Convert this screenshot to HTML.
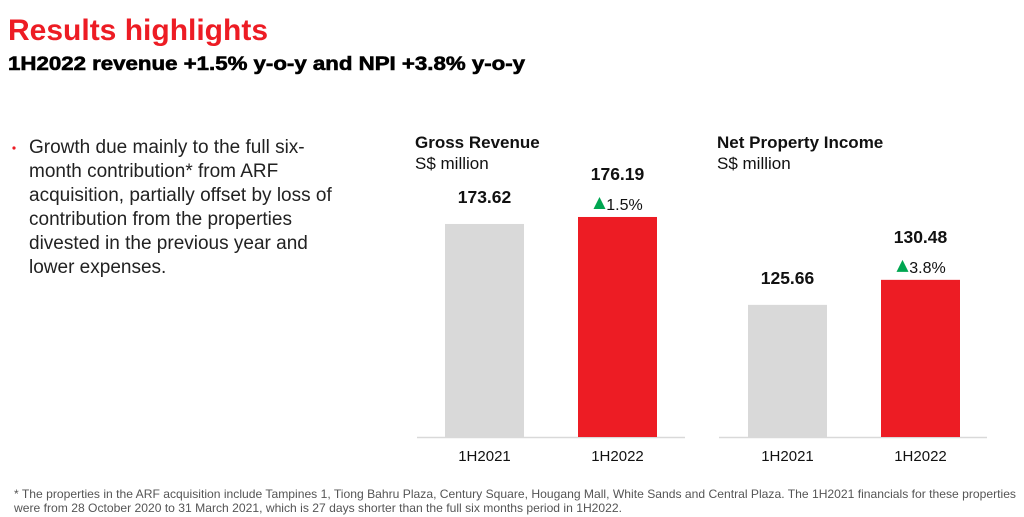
<!DOCTYPE html>
<html><head><meta charset="utf-8"><style>
html,body{margin:0;padding:0;background:#fff;}
svg{display:block;font-family:"Liberation Sans",Arial,sans-serif;}
</style></head><body>
<svg id="s" width="1024" height="517" viewBox="0 0 1024 517">
<text x="8" y="40" font-size="30" font-weight="bold" fill="#ed1c24">Results highlights</text>
<text x="8" y="70" font-size="19" font-weight="900" fill="#000" stroke="#000" stroke-width="0.6" textLength="517" lengthAdjust="spacingAndGlyphs">1H2022 revenue +1.5% y-o-y and NPI +3.8% y-o-y</text>
<circle cx="14" cy="148" r="1.6" fill="#ed1c24"/>
<g font-size="19" fill="#222">
<text x="29" y="153">Growth due mainly to the full six-</text>
<text x="29" y="177">month contribution* from ARF</text>
<text x="29" y="201">acquisition, partially offset by loss of</text>
<text x="29" y="225">contribution from the properties</text>
<text x="29" y="249">divested in the previous year and</text>
<text x="29" y="273">lower expenses.</text>
</g>
<text x="415" y="148" font-size="17" font-weight="bold" fill="#111">Gross Revenue</text>
<text x="415" y="169" font-size="17" fill="#111">S$ million</text>
<text x="717" y="148" font-size="17" font-weight="bold" fill="#111">Net Property Income</text>
<text x="717" y="169" font-size="17" fill="#111">S$ million</text>
<g id="charts"></g>
<g font-size="12" fill="#555">
<text x="14" y="498" textLength="1002" lengthAdjust="spacingAndGlyphs">* The properties in the ARF acquisition include Tampines 1, Tiong Bahru Plaza, Century Square, Hougang Mall, White Sands and Central Plaza. The 1H2021 financials for these properties</text>
<text x="14" y="512" textLength="608" lengthAdjust="spacingAndGlyphs">were from 28 October 2020 to 31 March 2021, which is 27 days shorter than the full six months period in 1H2022.</text>
</g>
</svg>
<script>
const categories = ["1H2021", "1H2022"];
const grossValues = [173.62, 176.19];
const npiValues = [125.66, 130.48];
const grossChange = "1.5%";
const npiChange = "3.8%";

const NS = "http://www.w3.org/2000/svg";
const root = document.getElementById("charts");
function mk(tag, attrs, parent) {
  const e = document.createElementNS(NS, tag);
  for (const k in attrs) e.setAttribute(k, attrs[k]);
  parent.appendChild(e);
  return e;
}
function drawChart(name, values, change, axisX0, axisX1, barX, barW, vMin, pxPerUnit) {
  const base = 437;
  const y = v => base - (v - vMin) * pxPerUnit;
  const g = mk("g", {}, root);
  
  
  const ax = mk("line", {x1: axisX0, x2: axisX1, y1: base + 0.5, y2: base + 0.5, stroke: "#d9d9d9", "stroke-width": 1.5}, g);
  
  
  values.forEach((v, i) => {
    const x = barX[i], top = y(v), cx = x + barW / 2;
    const r = mk("rect", {x: x, y: top, width: barW, height: base - top, fill: i === 0 ? "#d9d9d9" : "#ed1c24"}, g);
    
    
    const labY = i === 0 ? top - 21 : top - 37;
    const t = mk("text", {x: cx, y: labY, "text-anchor": "middle", "font-size": 17.5, "font-weight": "bold", fill: "#111"}, g);
    t.textContent = v.toFixed(2);
    
    
    if (i === 1) {
      const c = mk("text", {x: cx + 7, y: top - 7, "text-anchor": "middle", "font-size": 16, fill: "#111"}, g);
      c.textContent = change;
      
      
      const tx = cx - 24;
      const tri = mk("polygon", {points: (tx) + "," + (top - 8) + " " + (tx + 12) + "," + (top - 8) + " " + (tx + 6) + "," + (top - 20), fill: "#00a651"}, g);
      
      
    }
    const ct = mk("text", {x: cx, y: 461, "text-anchor": "middle", "font-size": 15, fill: "#111"}, g);
    ct.textContent = categories[i];
    
    
  });
}
drawChart("gross-revenue", grossValues, grossChange, 417, 685, [445, 578], 79, 95.3, 2.72);
drawChart("npi", npiValues, npiChange, 719, 987, [748, 881], 79, 100.2, 5.19);
</script>
</body></html>
